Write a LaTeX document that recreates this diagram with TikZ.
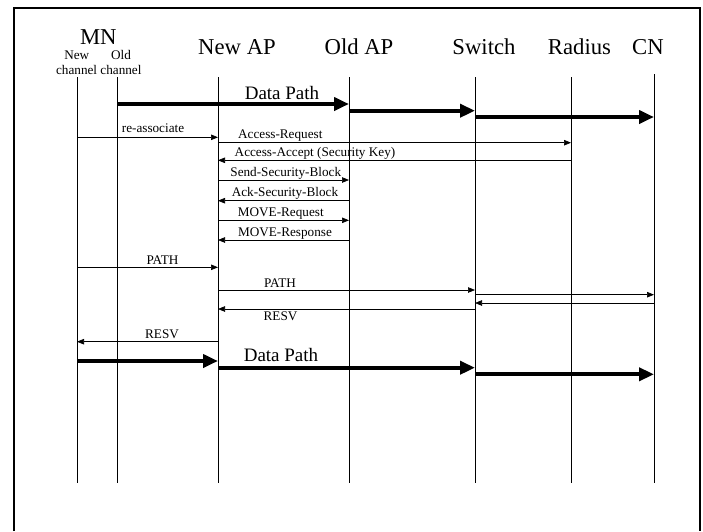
\documentclass[tikz,border=0pt]{standalone}
\usepackage{fontspec}
\setmainfont{Liberation Serif}
\usetikzlibrary{arrows.meta}
\begin{document}
\begin{tikzpicture}[x=1pt,y=-1pt,
  life/.style={line width=0.7pt},
  msg/.style={line width=0.7pt,-{Triangle[length=7pt,width=5.5pt]}},
  data/.style={line width=4pt,-{Triangle[length=15pt,width=13pt]}},
  head/.style={font=\fontsize{22.7}{24}\selectfont, anchor=base, inner sep=0pt},
  sub/.style={font=\fontsize{13.2}{14}\selectfont, anchor=base, inner sep=0pt},
  lbl/.style={font=\fontsize{13.2}{14}\selectfont, anchor=base, inner sep=0pt},
  dlbl/.style={font=\fontsize{19}{20}\selectfont, anchor=base, inner sep=0pt}]
\useasboundingbox (0,0) rectangle (703,531);
% frame
\coordinate (fbl) at (14,531);
\coordinate (ftl) at (14,8);
\coordinate (ftr) at (700,8);
\coordinate (fbr) at (700,531);
\draw[line width=1.4pt] (fbl) -- (ftl) -- (ftr) -- (fbr);
% headings
\node[head] (hMN) at (98.3,44) {MN};
\node[sub] (hNew) at (76.8,59) {New};
\node[sub] (hOld) at (121,59) {Old};
\node[sub] (hCh) at (98.8,74) {channel channel};
\node[head] (hNAP) at (237,54) {New AP};
\node[head] (hOAP) at (359,54) {Old AP};
\node[head] (hSW) at (484,54) {Switch};
\node[head] (hRAD) at (579.5,54) {Radius};
\node[head] (hCN) at (648,54) {CN};
% lifelines
\coordinate (mnN) at (77,77);
\coordinate (mnO) at (117,77);
\coordinate (nap) at (218,77);
\coordinate (oap) at (349,77);
\coordinate (sw) at (475,77);
\coordinate (rad) at (571,77);
\coordinate (cn) at (654,74);
\coordinate (bot) at (0,483);
\foreach \l in {mnN,mnO,nap,oap,sw,rad,cn}
  \draw[life] (\l) -- (\l |- bot);
% row coordinates
\coordinate (d1) at (0,104);
\coordinate (d2) at (0,110.7);
\coordinate (d3) at (0,117);
\coordinate (m1) at (0,137.3);
\coordinate (m2) at (0,142.7);
\coordinate (m3) at (0,160.3);
\coordinate (m4) at (0,180);
\coordinate (m5) at (0,200.7);
\coordinate (m6) at (0,220.3);
\coordinate (m7) at (0,240);
\coordinate (m8) at (0,267.3);
\coordinate (m9) at (0,290);
\coordinate (m10) at (0,294.7);
\coordinate (m11) at (0,303);
\coordinate (m12) at (0,309);
\coordinate (m13) at (0,341.7);
\coordinate (d4) at (0,361);
\coordinate (d5) at (0,367.7);
\coordinate (d6) at (0,374.3);
% data paths (top)
\draw[data] (mnO |- d1) -- (oap |- d1);
\draw[data] (oap |- d2) -- (sw |- d2);
\draw[data] (sw |- d3) -- (cn |- d3);
\node[dlbl] (lD1) at (282,99) {Data Path};
% messages
\draw[msg] (mnN |- m1) -- (nap |- m1);
\node[lbl] (l1) at (153,132.7) {re-associate};
\draw[msg] (nap |- m2) -- (rad |- m2);
\node[lbl] (l2) at (280.3,138.3) {Access-Request};
\draw[msg] (rad |- m3) -- (nap |- m3);
\node[lbl] (l3) at (315,156.7) {Access-Accept (Security Key)};
\draw[msg] (nap |- m4) -- (oap |- m4);
\node[lbl] (l4) at (285.8,176.7) {Send-Security-Block};
\draw[msg] (oap |- m5) -- (nap |- m5);
\node[lbl] (l5) at (285,196.7) {Ack-Security-Block};
\draw[msg] (nap |- m6) -- (oap |- m6);
\node[lbl] (l6) at (280.8,216.7) {MOVE-Request};
\draw[msg] (oap |- m7) -- (nap |- m7);
\node[lbl] (l7) at (285,236.7) {MOVE-Response};
\draw[msg] (mnN |- m8) -- (nap |- m8);
\node[lbl] (l8) at (162.5,264) {PATH};
\draw[msg] (nap |- m9) -- (sw |- m9);
\node[lbl] (l9) at (280,287.7) {PATH};
\draw[msg] (sw |- m10) -- (cn |- m10);
\draw[msg] (cn |- m11) -- (sw |- m11);
\draw[msg] (sw |- m12) -- (nap |- m12);
\node[lbl] (l12) at (280.5,320.7) {RESV};
\draw[msg] (nap |- m13) -- (mnN |- m13);
\node[lbl] (l13) at (162,338.3) {RESV};
% data paths (bottom)
\draw[data] (mnN |- d4) -- (nap |- d4);
\draw[data] (nap |- d5) -- (sw |- d5);
\draw[data] (sw |- d6) -- (cn |- d6);
\node[dlbl] (lD2) at (281,361.7) {Data Path};
\end{tikzpicture}
\end{document}
